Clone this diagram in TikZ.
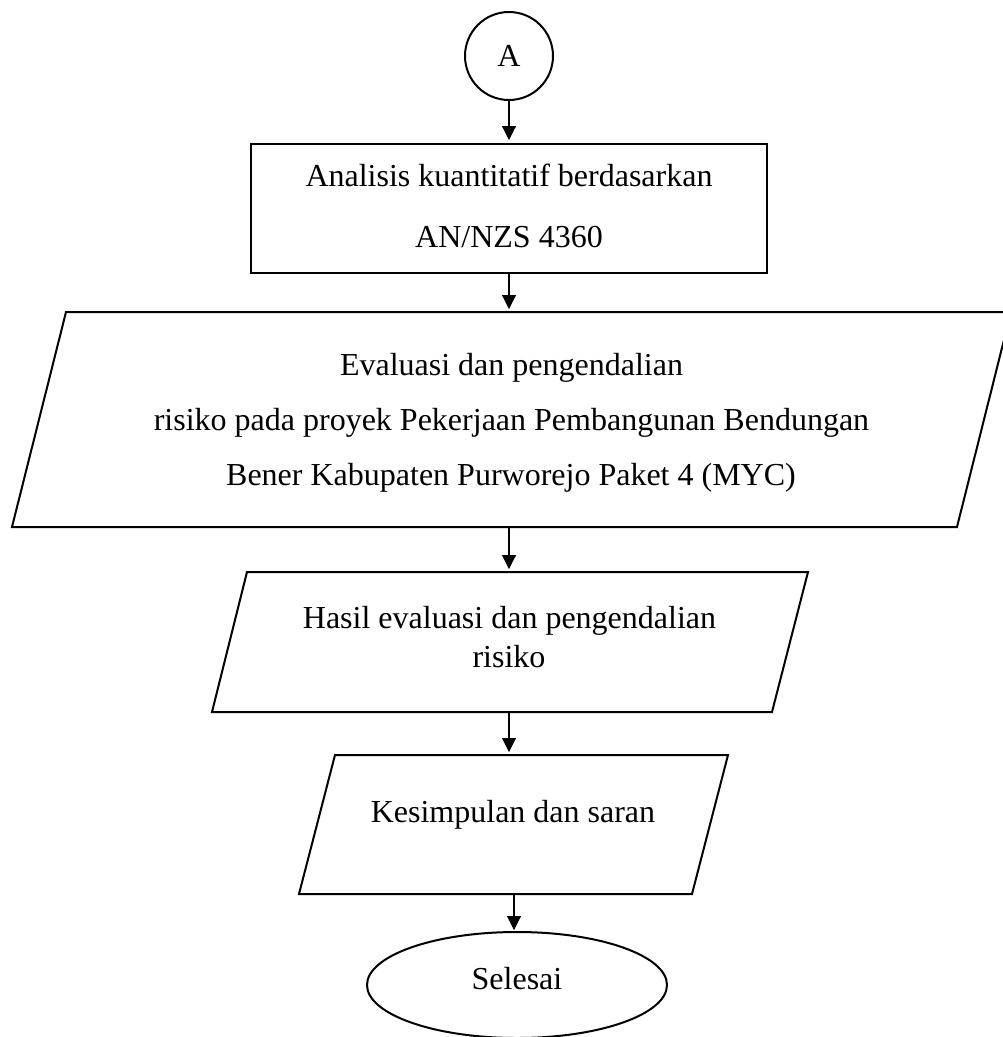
\documentclass[tikz,border=0pt]{standalone}
\usepackage{fontspec}
\setmainfont{Liberation Serif}
\usetikzlibrary{arrows.meta,shapes.geometric}
\begin{document}
\begin{tikzpicture}[x=1pt,y=-1pt,
  txt/.style={font=\fontsize{32}{38}\selectfont, anchor=base, inner sep=0pt},
  shp/.style={line width=2pt, draw=black},
  arr/.style={line width=1.1pt, -{Triangle[length=14pt,width=14pt]}},
  ghost/.style={draw=none, inner sep=0pt, outer sep=0pt, rectangle}]
\clip (0,0) rectangle (1003,1037);
\fill[white] (0,0) rectangle (1003,1037);

% connector A
\node[shp, circle, minimum size=88pt, inner sep=0pt, font=\fontsize{32}{38}\selectfont] (A) at (509,56) {A};

% process box
\node[shp, rectangle, minimum width=516pt, minimum height=129pt, inner sep=0pt] (R) at (509,208.5) {};
\node[txt] (Rt1) at (509,186) {Analisis kuantitatif berdasarkan};
\node[txt] (Rt2) at (509,247) {AN/NZS 4360};

% big parallelogram
\node[ghost, minimum width=900pt, minimum height=215pt] (E) at (509,419.5) {};
\draw[shp] (66,312) -- (1011,312) -- (957,527) -- (12,527) -- cycle;
\node[txt] (Et1) at (511.5,375) {Evaluasi dan pengendalian};
\node[txt] (Et2) at (511.5,430) {risiko pada proyek Pekerjaan Pembangunan Bendungan};
\node[txt] (Et3) at (511,485) {Bener Kabupaten Purworejo Paket 4 (MYC)};

% second parallelogram
\node[ghost, minimum width=520pt, minimum height=140pt] (H) at (509,642) {};
\draw[shp] (247,572) -- (808,572) -- (772,712) -- (212,712) -- cycle;
\node[txt] (Ht1) at (509.5,628) {Hasil evaluasi dan pengendalian};
\node[txt] (Ht2) at (509,667) {risiko};

% third parallelogram
\node[ghost, minimum width=360pt, minimum height=139pt] (K) at (514,824.5) {};
\draw[shp] (335,755) -- (728,755) -- (692,894) -- (299,894) -- cycle;
\node[txt] (Kt) at (513,822) {Kesimpulan dan saran};

% terminator
\node[shp, ellipse, minimum width=300pt, minimum height=106pt, inner sep=0pt] (S) at (517,985) {};
\node[txt] (St) at (517,989) {Selesai};

% connectors
\draw[arr, shorten >=3pt] (A.south) -- (R.north);
\draw[arr, shorten >=3pt] (R.south) -- (R.south |- E.north);
\draw[arr, shorten >=3pt] (E.south) -- (H.north);
\draw[arr, shorten >=3pt] (H.south) -- (H.south |- K.north);
\draw[arr, shorten >=1pt] (K.south) -- (K.south |- S.north);
\end{tikzpicture}
\end{document}
